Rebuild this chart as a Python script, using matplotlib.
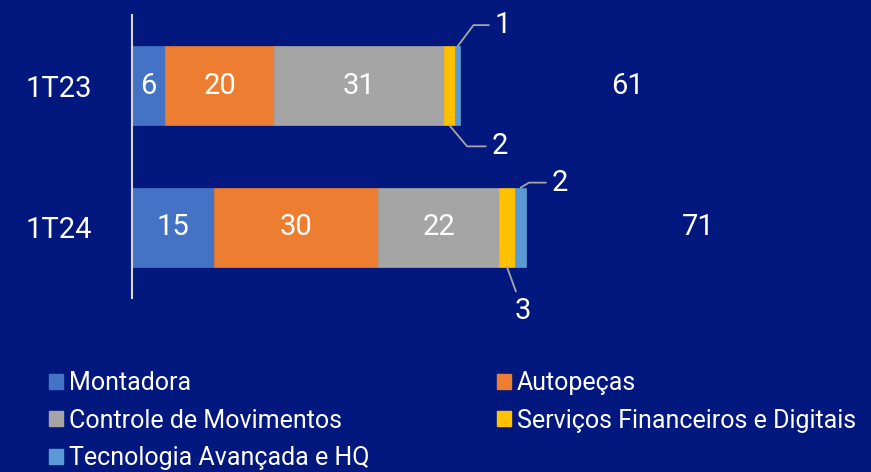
import matplotlib
matplotlib.use("Agg")
import matplotlib.pyplot as plt
from matplotlib.patches import Patch
import numpy as np

# data
periods = ["1T23", "1T24"]
segments = ["Montadora", "Autopeças", "Controle de Movimentos",
            "Serviços Financeiros e Digitais", "Tecnologia Avançada e HQ"]
values = {
    "Montadora": [6, 15],
    "Autopeças": [20, 30],
    "Controle de Movimentos": [31, 22],
    "Serviços Financeiros e Digitais": [2, 3],
    "Tecnologia Avançada e HQ": [1, 2],
}
totals = [61, 71]

colors = ["#4472C4", "#ED7D31", "#A5A5A5", "#FFC000", "#5B9BD5"]
BG = "#02187E"
TXT = "white"

plt.rcParams["font.family"] = ["Roboto", "DejaVu Sans"]

fig = plt.figure(figsize=(8.71, 4.72), dpi=100, facecolor=BG)
ax = fig.add_axes([132 / 871, 1 - 298 / 472, 739 / 871, 283 / 472])
ax.set_facecolor(BG)

y = np.arange(len(periods))
left = np.zeros(len(periods))
h = 0.56
bars = {}
for name, c in zip(segments, colors):
    v = np.array(values[name], dtype=float)
    bars[name] = ax.barh(y, v, left=left, height=h, color=c, edgecolor=c, linewidth=0.5)
    left += v

# values inside the big segments
for name in segments[:3]:
    ax.bar_label(bars[name], labels=[str(v) for v in values[name]],
                 label_type="center", color=TXT, fontsize=21)

# invisible total bar, label in its centre (as in the source chart)
tot = ax.barh(y, totals, left=left, height=h, color="none")
ax.bar_label(tot, labels=[str(t) for t in totals], label_type="center",
             color=TXT, fontsize=21)

# small segments with leader lines
serv = values["Serviços Financeiros e Digitais"]
tec = values["Tecnologia Avançada e HQ"]
ends = np.cumsum([values[n] for n in segments], axis=0)
lc = "#A6A6A6"

def leader(x, yy, txt, off, angB, ha="center", va="center", straight=False):
    cs = "arc3" if straight else f"angle,angleA=0,angleB={angB},rad=0"
    ax.annotate(txt, xy=(x, yy), xytext=off, textcoords="offset pixels",
                color=TXT, fontsize=21, ha=ha, va=va,
                arrowprops=dict(arrowstyle="-", color=lc, lw=1.3,
                                connectionstyle=cs, shrinkA=2, shrinkB=0))

# 1T23
leader(ends[4][0] - tec[0] / 2, 0 - h / 2, str(tec[0]), (45, 21), 53)
leader(ends[3][0] - serv[0] / 2, 0 + h / 2, str(serv[0]), (50, -21), -50)
# 1T24
leader(ends[4][1] - tec[1] / 2, 1 - h / 2, str(tec[1]), (39, 5), 31)
leader(ends[3][1] - serv[1] / 2, 1 + h / 2, str(serv[1]), (16, -44), 0,
       va="center", straight=True)

ax.set_ylim(-0.5, 1.5)
ax.invert_yaxis()
ax.set_xlim(0, 135)
ax.set_yticks(y)
ax.set_yticklabels(periods, color=TXT, fontsize=21)
ax.tick_params(axis="y", length=0, pad=29)
ax.set_xticks([])
for s in ["top", "right", "bottom"]:
    ax.spines[s].set_visible(False)
ax.spines["left"].set_color("#D9D9D9")
ax.spines["left"].set_linewidth(1.5)

order = [0, 2, 4, 1, 3]
handles = [Patch(facecolor=colors[i], edgecolor=colors[i]) for i in order]
labels = [segments[i] for i in order]
fig.legend(handles, labels, loc="upper left", bbox_to_anchor=(49 / 871, 1 - 371 / 472),
           ncol=2, frameon=False, fontsize=18, labelcolor=TXT,
           handlelength=0.55, handleheight=0.55, handletextpad=0.25,
           columnspacing=5.1, labelspacing=0.55, borderpad=0, borderaxespad=0)

fig.savefig("out.png", dpi=100, facecolor=BG)
